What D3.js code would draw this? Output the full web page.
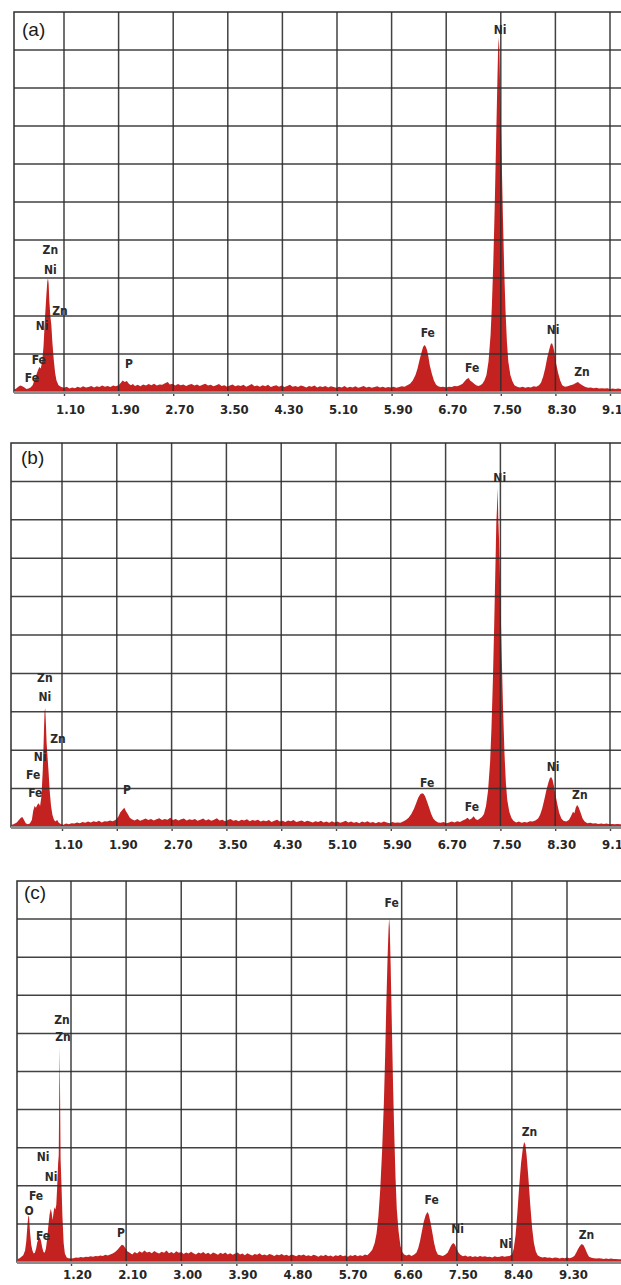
<!DOCTYPE html>
<html><head><meta charset="utf-8">
<script src="https://cdn.jsdelivr.net/npm/d3@7"></script>
<style>body{margin:0;background:#fff}svg{display:block}</style>
</head><body>
<svg id="chart" width="621" height="1285"></svg>
<script>
// ---- tick values (keV) ----
const ticksAB = [1.10, 1.90, 2.70, 3.50, 4.30, 5.10, 5.90, 6.70, 7.50, 8.30, 9.10];
const ticksC  = [1.20, 2.10, 3.00, 3.90, 4.80, 5.70, 6.60, 7.50, 8.40, 9.30];

// ---- spectra: [energy keV, counts] (full scale = 1000) ----
const spectrumA = [
[0.36,6],[0.40,9],[0.43,14],[0.46,17],[0.49,15],[0.52,12],[0.55,8],[0.58,9],[0.61,12],[0.64,18],[0.67,32],[0.70,48],[0.72,58],[0.74,66],[0.76,62],[0.78,80],[0.80,120],[0.82,190],[0.84,250],[0.855,290],[0.865,300],[0.875,285],[0.885,240],[0.90,200],[0.915,175],[0.93,130],[0.95,85],[0.97,50],[0.99,30],[1.02,18],[1.06,13],[1.10,11],
[1.14,14],[1.18,9],[1.22,12],[1.26,10],[1.30,14],[1.34,11],[1.38,15],[1.42,12],[1.46,13],[1.50,16],[1.54,12],[1.58,15],[1.62,13],[1.66,17],[1.70,14],[1.74,16],[1.78,13],[1.82,17],[1.86,15],[1.90,18],[1.93,24],[1.96,30],[1.99,26],[2.02,29],[2.05,22],[2.08,18],[2.11,21],[2.14,16],[2.18,19],[2.22,15],[2.26,20],[2.30,17],[2.34,21],[2.38,18],[2.42,22],[2.46,17],[2.50,20],[2.54,19],[2.58,23],[2.62,26],[2.65,20],[2.69,22],[2.73,17],[2.77,21],[2.81,18],[2.85,20],[2.89,16],[2.93,19],[2.97,21],[3.01,17],[3.05,20],[3.09,16],[3.13,19],[3.17,22],[3.21,17],[3.25,19],[3.29,15],[3.33,18],[3.37,21],[3.41,16],[3.45,18],[3.49,14],[3.53,17],[3.57,20],[3.61,15],[3.65,18],[3.69,16],[3.73,19],[3.77,14],[3.81,17],[3.85,21],[3.89,15],[3.93,17],[3.97,14],[4.01,18],[4.05,15],[4.09,19],[4.13,13],[4.17,16],[4.21,18],[4.25,14],[4.29,17],[4.33,13],[4.37,16],[4.41,19],[4.45,14],[4.49,16],[4.53,13],[4.57,17],[4.61,15],[4.65,12],[4.69,16],[4.73,14],[4.77,17],[4.81,12],[4.85,15],[4.89,13],[4.93,16],[4.97,12],[5.01,15],[5.05,13],[5.09,11],[5.13,14],[5.17,12],[5.21,16],[5.25,11],[5.29,14],[5.33,12],[5.37,15],[5.41,11],[5.45,13],[5.49,16],[5.53,12],[5.57,14],[5.61,11],[5.65,13],[5.69,15],[5.73,12],[5.77,14],[5.81,11],[5.85,13],[5.89,12],[5.93,14],[5.97,11],[6.01,13],[6.05,15],
[6.09,14],[6.13,18],[6.17,22],[6.21,30],[6.25,45],[6.28,62],[6.31,85],[6.34,105],[6.36,118],[6.38,124],[6.40,120],[6.42,110],[6.44,92],[6.46,70],[6.49,48],[6.52,30],[6.55,20],[6.58,15],[6.62,13],[6.66,14],[6.70,12],[6.74,14],[6.78,13],[6.82,16],[6.86,15],[6.90,18],[6.94,22],[6.97,28],[7.00,34],[7.03,37],[7.05,30],[7.08,26],[7.11,22],[7.14,18],[7.17,16],[7.20,18],[7.23,22],[7.26,30],
[7.29,45],[7.32,80],[7.35,150],[7.37,230],[7.39,340],[7.41,480],[7.43,650],[7.45,820],[7.46,900],[7.47,932],[7.48,900],[7.49,800],[7.51,640],[7.53,470],[7.55,320],[7.57,210],[7.59,130],[7.61,80],[7.64,45],[7.67,28],[7.70,18],[7.74,14],[7.78,12],[7.82,14],[7.86,11],[7.90,13],[7.94,12],[7.98,15],[8.02,14],[8.06,18],[8.09,25],[8.12,40],[8.15,62],[8.18,90],[8.21,112],[8.23,125],[8.25,129],[8.27,118],[8.29,100],[8.31,75],[8.34,50],[8.37,30],[8.40,18],[8.44,14],[8.48,15],[8.52,18],[8.56,20],[8.60,24],[8.63,26],[8.66,22],[8.70,17],[8.74,13],[8.78,11],[8.82,12],[8.86,10],[8.90,11],[8.94,9],[8.98,10],[9.02,9],[9.06,10],[9.10,8],[9.14,9],[9.18,8],[9.22,9],[9.26,8],[9.30,8]
];

const spectrumB = [
[0.36,5],[0.40,8],[0.44,12],[0.47,18],[0.50,24],[0.52,26],[0.54,20],[0.57,10],[0.60,7],[0.63,9],[0.66,18],[0.68,42],[0.70,55],[0.72,50],[0.74,58],[0.76,62],[0.78,55],[0.80,80],[0.82,150],[0.835,240],[0.845,300],[0.855,310],[0.865,270],[0.875,220],[0.89,180],[0.905,140],[0.92,95],[0.94,55],[0.96,32],[0.98,20],[1.00,14],[1.03,18],[1.05,12],[1.08,8],
[1.12,6],[1.16,9],[1.20,7],[1.24,10],[1.28,9],[1.32,12],[1.36,10],[1.40,13],[1.44,11],[1.48,14],[1.52,12],[1.56,15],[1.60,13],[1.64,16],[1.68,12],[1.72,15],[1.76,14],[1.80,17],[1.84,15],[1.88,18],[1.92,26],[1.95,38],[1.98,44],[2.01,50],[2.03,42],[2.06,34],[2.09,24],[2.12,20],[2.16,17],[2.20,21],[2.24,16],[2.28,19],[2.32,22],[2.36,18],[2.40,21],[2.44,17],[2.48,20],[2.52,23],[2.56,18],[2.60,21],[2.64,19],[2.68,24],[2.72,18],[2.76,21],[2.80,17],[2.84,20],[2.88,22],[2.92,17],[2.96,20],[3.00,18],[3.04,21],[3.08,16],[3.12,19],[3.16,22],[3.20,17],[3.24,20],[3.28,16],[3.32,19],[3.36,23],[3.40,17],[3.44,19],[3.48,15],[3.52,18],[3.56,21],[3.60,16],[3.64,18],[3.68,15],[3.72,19],[3.76,17],[3.80,20],[3.84,15],[3.88,18],[3.92,16],[3.96,19],[4.00,14],[4.04,17],[4.08,15],[4.12,18],[4.16,13],[4.20,16],[4.24,19],[4.28,14],[4.32,16],[4.36,13],[4.40,17],[4.44,15],[4.48,18],[4.52,13],[4.56,15],[4.60,17],[4.64,13],[4.68,16],[4.72,14],[4.76,12],[4.80,15],[4.84,13],[4.88,16],[4.92,12],[4.96,14],[5.00,11],[5.04,15],[5.08,12],[5.12,14],[5.16,11],[5.20,13],[5.24,16],[5.28,12],[5.32,14],[5.36,11],[5.40,13],[5.44,10],[5.48,14],[5.52,12],[5.56,15],[5.60,11],[5.64,13],[5.68,10],[5.72,13],[5.76,11],[5.80,14],[5.84,12],[5.88,10],[5.92,13],[5.96,11],[6.00,12],[6.04,11],[6.08,14],
[6.12,18],[6.16,24],[6.20,34],[6.24,48],[6.27,62],[6.30,76],[6.33,85],[6.36,88],[6.38,86],[6.40,80],[6.43,66],[6.46,50],[6.49,34],[6.52,22],[6.55,16],[6.59,12],[6.63,11],[6.67,13],[6.71,10],[6.75,12],[6.79,14],[6.83,12],[6.87,15],[6.91,13],[6.95,17],[6.99,20],[7.02,24],[7.05,19],[7.08,22],[7.11,28],[7.14,20],[7.17,18],[7.20,22],[7.23,26],
[7.26,34],[7.29,55],[7.32,95],[7.35,170],[7.37,260],[7.39,380],[7.41,530],[7.43,700],[7.44,790],[7.45,830],[7.458,883],[7.466,830],[7.47,800],[7.48,750],[7.50,600],[7.52,440],[7.54,300],[7.56,190],[7.58,115],[7.60,70],[7.63,40],[7.66,24],[7.69,16],[7.73,12],[7.77,14],[7.81,11],[7.85,13],[7.89,12],[7.93,15],[7.97,14],[8.01,17],[8.05,22],[8.08,32],[8.11,48],[8.14,70],[8.17,95],[8.20,115],[8.22,126],[8.24,130],[8.26,124],[8.28,108],[8.30,88],[8.33,60],[8.36,36],[8.39,22],[8.42,16],[8.46,14],[8.50,18],[8.53,28],[8.56,40],[8.58,36],[8.60,50],[8.62,57],[8.64,52],[8.67,38],[8.70,22],[8.73,14],[8.77,10],[8.81,11],[8.85,9],[8.89,10],[8.93,8],[8.97,9],[9.01,8],[9.05,9],[9.09,7],[9.13,8],[9.17,7],[9.21,8],[9.25,7],[9.30,7]
];

const spectrumC = [
[0.33,8],[0.36,10],[0.39,14],[0.42,18],[0.45,30],[0.47,55],[0.49,100],[0.505,123],[0.515,118],[0.53,80],[0.55,45],[0.57,30],[0.59,22],[0.61,24],[0.63,35],[0.65,52],[0.67,62],[0.69,65],[0.71,56],[0.73,38],[0.75,26],[0.77,24],[0.79,35],[0.81,60],[0.83,95],[0.85,125],[0.87,140],[0.885,128],[0.90,110],[0.915,130],[0.93,144],[0.945,138],[0.96,150],[0.975,200],[0.99,260],[1.00,280],[1.01,480],[1.015,564],[1.02,470],[1.03,270],[1.045,200],[1.06,120],[1.08,50],[1.10,22],[1.13,12],[1.16,10],[1.20,9],
[1.24,10],[1.28,12],[1.32,11],[1.36,13],[1.40,12],[1.44,14],[1.48,13],[1.52,15],[1.56,14],[1.60,16],[1.64,15],[1.68,17],[1.72,16],[1.76,19],[1.80,17],[1.84,20],[1.88,22],[1.92,26],[1.96,32],[2.00,40],[2.03,45],[2.06,43],[2.09,36],[2.12,28],[2.16,24],[2.20,20],[2.24,26],[2.28,22],[2.32,28],[2.36,24],[2.40,30],[2.44,25],[2.48,27],[2.52,23],[2.56,29],[2.60,25],[2.64,22],[2.68,27],[2.72,24],[2.76,30],[2.80,23],[2.84,26],[2.88,22],[2.92,28],[2.96,24],[3.00,26],[3.04,21],[3.08,25],[3.12,22],[3.16,27],[3.20,23],[3.24,20],[3.28,25],[3.32,22],[3.36,26],[3.40,21],[3.44,24],[3.48,20],[3.52,25],[3.56,22],[3.60,19],[3.64,24],[3.68,21],[3.72,25],[3.76,20],[3.80,23],[3.84,19],[3.88,22],[3.92,25],[3.96,20],[4.00,22],[4.04,18],[4.08,23],[4.12,20],[4.16,17],[4.20,21],[4.24,19],[4.28,23],[4.32,18],[4.36,20],[4.40,17],[4.44,21],[4.48,19],[4.52,16],[4.56,20],[4.60,18],[4.64,21],[4.68,17],[4.72,19],[4.76,16],[4.80,20],[4.84,18],[4.88,15],[4.92,19],[4.96,17],[5.00,20],[5.04,16],[5.08,18],[5.12,15],[5.16,19],[5.20,17],[5.24,14],[5.28,18],[5.32,16],[5.36,19],[5.40,15],[5.44,17],[5.48,14],[5.52,18],[5.56,16],[5.60,19],[5.64,15],[5.68,17],[5.72,14],[5.76,18],[5.80,16],[5.84,19],[5.88,15],[5.92,18],[5.96,16],[6.00,20],[6.04,18],[6.08,24],
[6.12,32],[6.16,50],[6.19,75],[6.22,120],[6.25,190],[6.28,290],[6.31,420],[6.33,540],[6.35,680],[6.37,800],[6.385,870],[6.395,903],[6.405,880],[6.42,780],[6.44,620],[6.46,460],[6.48,330],[6.50,220],[6.52,140],[6.55,80],[6.58,42],[6.61,26],[6.64,20],[6.68,17],[6.72,20],[6.76,16],[6.80,19],[6.84,24],[6.87,36],[6.90,55],[6.93,80],[6.96,105],[6.99,122],[7.02,131],[7.04,126],[7.07,105],[7.10,78],[7.13,50],[7.16,30],[7.19,20],[7.23,18],[7.27,16],[7.31,19],[7.35,24],[7.38,34],[7.41,44],[7.44,50],[7.47,46],[7.50,34],[7.53,24],[7.56,19],[7.60,15],[7.64,17],[7.68,14],[7.72,16],[7.76,13],[7.80,15],[7.84,13],[7.88,16],[7.92,14],[7.96,15],[8.00,13],[8.04,14],[8.08,12],[8.12,15],[8.16,13],[8.20,14],[8.24,16],[8.28,14],[8.32,15],[8.36,16],[8.40,20],[8.43,35],[8.46,70],[8.49,130],[8.52,200],[8.55,260],[8.58,300],[8.60,315],[8.62,308],[8.64,280],[8.67,220],[8.70,150],[8.73,90],[8.76,50],[8.79,28],[8.82,18],[8.86,14],[8.90,12],[8.94,13],[8.98,11],[9.02,12],[9.06,10],[9.10,12],[9.14,11],[9.18,9],[9.22,11],[9.26,10],[9.30,12],[9.34,10],[9.38,12],[9.42,16],[9.45,24],[9.48,34],[9.51,42],[9.54,47],[9.57,44],[9.60,34],[9.63,22],[9.66,14],[9.70,11],[9.74,10],[9.78,9],[9.82,10],[9.86,9],[9.90,8],[9.94,9],[9.98,8],[10.02,9],[10.06,8],[10.10,8],[10.14,7],[10.20,7]
];

// ---- peak labels: [element, keV, counts] ----
const labelsA = [["Zn",0.90,374],["Ni",0.90,321],["Zn",1.04,213],["Ni",0.78,174],["Fe",0.73,84],["Fe",0.63,37],["P",2.05,74],
                 ["Ni",7.49,953],["Fe",6.43,155],["Fe",7.08,63],["Ni",8.265,163],["Zn",8.69,53]];
const labelsB = [["Zn",0.85,388],["Ni",0.85,339],["Zn",1.04,229],["Ni",0.78,182],["Fe",0.68,135],["Fe",0.71,89],["P",2.05,96],
                 ["Ni",7.49,909],["Fe",6.43,115],["Fe",7.085,52],["Ni",8.27,156],["Zn",8.66,83]];
const labelsC = [["Zn",1.053,635],["Zn",1.069,591],["Ni",0.743,276],["Ni",0.874,223],["Fe",0.629,173],["O",0.515,134],["Fe",0.743,68],["P",2.016,76],
                 ["Fe",6.437,942],["Fe",7.089,163],["Ni",7.513,87],["Ni",8.296,47],["Zn",8.688,341],["Zn",9.618,71]];

const panelTitles = ["(a)", "(b)", "(c)"];

// ---- layout ----
const panels = [
  {title:panelTitles[0], data:spectrumA, labels:labelsA, ticks:ticksAB, left:14, right:640, top:12,  bottom:392,  e0:1.10, e1:9.10, p0:64, p1:610, lab:17,   tx:22, ty:36},
  {title:panelTitles[1], data:spectrumB, labels:labelsB, ticks:ticksAB, left:11, right:640, top:443, bottom:827,  e0:1.10, e1:9.10, p0:62, p1:610, lab:17.5, tx:21, ty:464},
  {title:panelTitles[2], data:spectrumC, labels:labelsC, ticks:ticksC,  left:17, right:640, top:881, bottom:1262, e0:1.20, e1:9.30, p0:71, p1:567, lab:12,   tx:24, ty:899}
];

const svg = d3.select("#chart");
const RED = "#c42220";
const GRID = "#2e2e2e";
const condensed = "'DejaVu Sans Condensed','Liberation Sans Narrow','DejaVu Sans',sans-serif";

panels.forEach((p, i) => {
  const x = d3.scaleLinear().domain([p.e0, p.e1]).range([p.p0, p.p1]);
  const y = d3.scaleLinear().domain([0, 1000]).range([p.bottom, p.top]);
  const g = svg.append("g");

  const clipId = "clip" + i;
  svg.append("clipPath").attr("id", clipId).append("rect")
    .attr("x", p.left).attr("y", p.top).attr("width", p.right - p.left).attr("height", p.bottom - p.top);

  // spectrum
  const area = d3.area().x(d => x(d[0])).y0(y(0)).y1(d => y(d[1]));
  g.append("path").datum(p.data).attr("clip-path", `url(#${clipId})`)
    .attr("d", area).attr("fill", RED).attr("stroke", "none");

  // horizontal grid
  g.append("g").selectAll("line").data(d3.range(100, 1000, 100)).join("line")
    .attr("x1", p.left).attr("x2", p.right).attr("y1", d => y(d)).attr("y2", d => y(d))
    .attr("stroke", GRID).attr("stroke-width", 1.5).attr("stroke-opacity", 0.9);
  // vertical grid (extend to the full width of the frame)
  const vTicks = p.ticks.concat([p.ticks[p.ticks.length - 1] + (p.ticks[1] - p.ticks[0])]);
  g.append("g").selectAll("line").data(vTicks).join("line")
    .attr("x1", d => x(d)).attr("x2", d => x(d)).attr("y1", p.top).attr("y2", p.bottom)
    .attr("stroke", GRID).attr("stroke-width", 1.5).attr("stroke-opacity", 0.9);
  // frame
  g.append("rect").attr("x", p.left).attr("y", p.top).attr("width", p.right - p.left).attr("height", p.bottom - p.top)
    .attr("fill", "none").attr("stroke", GRID).attr("stroke-width", 1.5);

  // bottom axis
  const ax = d3.axisBottom(x).tickValues(p.ticks).tickFormat(d3.format(".2f")).tickSize(4).tickPadding(0);
  const axg = g.append("g").attr("transform", `translate(0,${p.bottom})`).call(ax);
  axg.select(".domain").remove();
  axg.selectAll(".tick line").attr("stroke", "#444").attr("stroke-width", 1.4);
  axg.selectAll(".tick text")
    .attr("y", p.lab).attr("dy", "0.35em").attr("dx", 6)
    .attr("fill", "#262626").style("font-family", condensed).style("font-weight", "bold").style("font-size", "13px");
  g.append("line").attr("x1", p.left).attr("x2", p.right).attr("y1", p.bottom + 0.5).attr("y2", p.bottom + 0.5)
    .attr("stroke", "#8c8c8c").attr("stroke-width", 3);

  // peak labels
  g.append("g").selectAll("text").data(p.labels).join("text")
    .attr("x", d => x(d[1])).attr("y", d => y(d[2])).attr("dy", "0.35em")
    .attr("text-anchor", "middle").text(d => d[0])
    .attr("fill", "#2b2b2b").style("font-family", condensed).style("font-weight", "bold").style("font-size", "12px");

  // panel title
  g.append("text").attr("x", p.tx).attr("y", p.ty).text(p.title)
    .attr("fill", "#1a1a1a").style("font-family", "'Liberation Sans',Arial,sans-serif").style("font-size", "19px");
});
</script>
</body></html>
